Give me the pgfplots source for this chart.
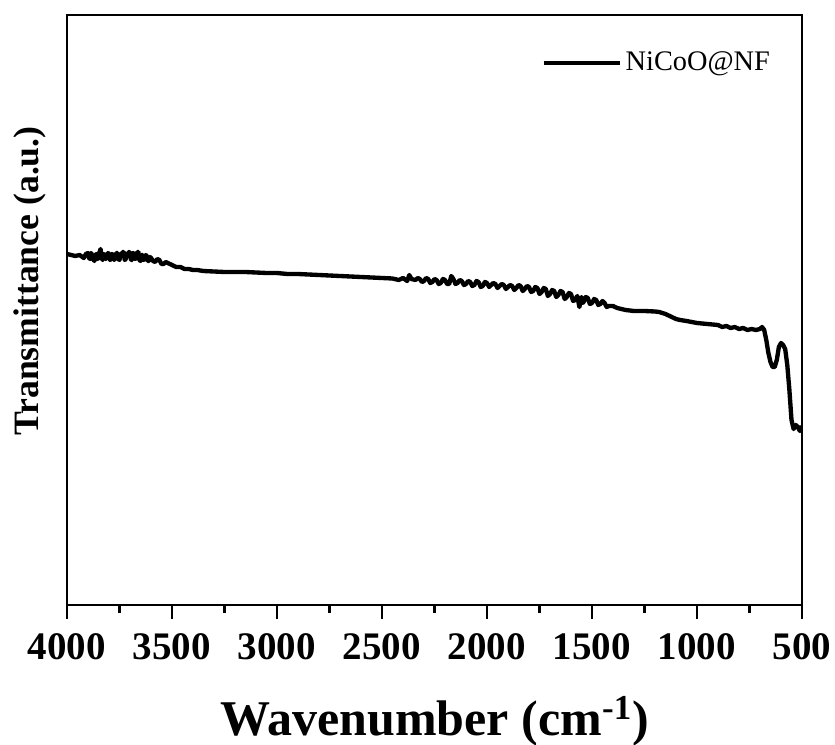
\documentclass[border=0pt]{standalone}
\usepackage{fontspec}
\setmainfont{Liberation Serif}
\usepackage{pgfplots}
\pgfplotsset{compat=1.18}
\begin{document}
\begin{tikzpicture}
\begin{axis}[
  scale only axis,
  width=441pt, height=354pt,
  xmin=500, xmax=4000, ymin=0, ymax=590,
  x dir=reverse,
  axis line style={line width=1.6pt},
  xtick={500,1000,...,4000},
  minor x tick num=1,
  xtick pos=bottom,
  ytick=\empty,
  tick align=outside,
  major tick length=8.4pt,
  minor tick length=4.8pt,
  every tick/.style={line width=1.6pt, black},
  /pgf/number format/1000 sep={},
  /pgf/number format/assume math mode=true,
  xticklabel style={font=\fontsize{23.4}{24}\selectfont\bfseries, yshift=-5pt},
  xlabel={\bfseries Wavenumber (cm\textsuperscript{-1})},
  xlabel style={font=\fontsize{30}{30}\selectfont, at={(axis description cs:0.5,0)}, anchor=base, yshift=-78pt},
  ylabel={\bfseries Transmittance (a.u.)},
  ylabel style={font=\fontsize{21.4}{22}\selectfont, at={(axis description cs:-0.0503,0.549)}, anchor=center},
  legend style={draw=none, fill=none, font=\fontsize{17}{17}\selectfont, at={(axis description cs:0.645,0.919)}, anchor=west, inner sep=0pt},
  legend cell align=left,
  legend image code/.code={\draw[#1] (0pt,0pt) -- (46pt,0pt);},
]
\coordinate (O) at (rel axis cs:0,0);
\addplot[black, line width=2.6pt, line join=round] coordinates {
(4000,351) (3980,350) (3960,349) (3940,350) (3920,347) (3910,351) (3900,352) (3895,347) (3890,346) (3885,352) (3880,350)
(3875,346) (3870,344) (3865,350) (3860,351) (3855,346) (3850,347) (3845,353) (3840,356) (3835,347) (3830,345) (3825,351) (3820,350) (3815,346) (3810,348) (3805,352) (3800,351)
(3795,345) (3790,346) (3785,351) (3780,350) (3775,345) (3770,347) (3765,352) (3760,352) (3755,346) (3750,345) (3745,351) (3740,349) (3735,353) (3730,353) (3725,345) (3720,346)
(3715,351) (3710,350) (3705,353) (3700,352) (3695,345) (3690,345) (3685,352) (3680,351) (3675,346) (3670,347) (3665,353) (3660,353) (3655,345) (3650,344) (3645,350) (3640,350)
(3635,345) (3630,346) (3625,350) (3620,349) (3615,344) (3610,344) (3605,348) (3600,347) (3590,344) (3580,343) (3570,346) (3560,345) (3550,341) (3540,341) (3530,343) (3520,342)
(3500,340) (3480,338) (3460,338) (3440,336) (3420,336) (3400,335) (3380,335) (3350,334)
(3300,333.5) (3250,333) (3200,333) (3150,333) (3100,332.5) (3050,332) (3000,332)
(2950,331) (2900,331) (2850,330.5) (2800,330) (2750,329.5) (2700,329) (2650,328.5)
(2600,328) (2550,327.5) (2500,327) (2450,326.5) (2420,325) (2400,327) (2380,324)
(2370,330) (2360,326) (2340,325) (2330,327) (2320,326) (2310,323) (2300,324) (2290,327) (2280,326) (2270,322) (2260,323) (2250,326) (2240,325)
(2230,321) (2220,322) (2210,326) (2200,325) (2190,321) (2180,321) (2170,329) (2160,326) (2150,321) (2140,322) (2130,325) (2120,324) (2110,320) (2100,321)
(2090,324) (2080,323) (2070,319) (2060,320) (2050,324) (2040,323) (2030,318) (2020,319) (2010,323) (2000,322) (1990,318) (1980,320) (1970,322) (1960,321) (1950,317) (1940,319)
(1930,321) (1920,320) (1910,316) (1900,318) (1890,320) (1880,319) (1870,315) (1860,317) (1850,320) (1840,319) (1830,314) (1820,316) (1810,319) (1800,318) (1790,313) (1780,314)
(1770,318) (1760,317) (1750,311) (1740,313) (1730,317) (1720,316) (1710,309) (1700,311) (1690,315) (1680,314) (1670,308) (1660,310) (1650,314) (1640,313) (1630,306) (1620,308)
(1610,312) (1600,311) (1590,304) (1580,305) (1570,309) (1560,298) (1550,308) (1545,302) (1540,303) (1530,308) (1520,307) (1510,301) (1500,302) (1490,306) (1480,305)
(1470,300) (1460,301) (1450,304) (1440,302) (1430,298) (1420,299) (1400,299) (1380,297) (1360,296) (1340,295) (1320,294.5)
(1300,294) (1250,294) (1200,293.5) (1180,293) (1150,291) (1120,288) (1100,286) (1080,285)
(1050,284) (1000,282) (950,281) (900,280) (880,278) (860,279) (840,277) (820,278)
(800,276) (780,277) (760,275) (740,276) (720,275) (700,276) (690,278) (680,275)
(670,265) (660,252) (650,243) (640,238) (630,238) (620,245) (610,258) (600,262)
(590,260) (580,256) (570,240) (560,215) (550,185) (540,176) (530,180) (520,178)
(510,174) (500,179)
};
\addlegendentry{NiCoO@NF}
\end{axis}
\pgfresetboundingbox
\path[use as bounding box] ([shift={(-40.2pt,-84pt)}]O) rectangle ([shift={(460.8pt,363pt)}]O);
\end{tikzpicture}
\end{document}
